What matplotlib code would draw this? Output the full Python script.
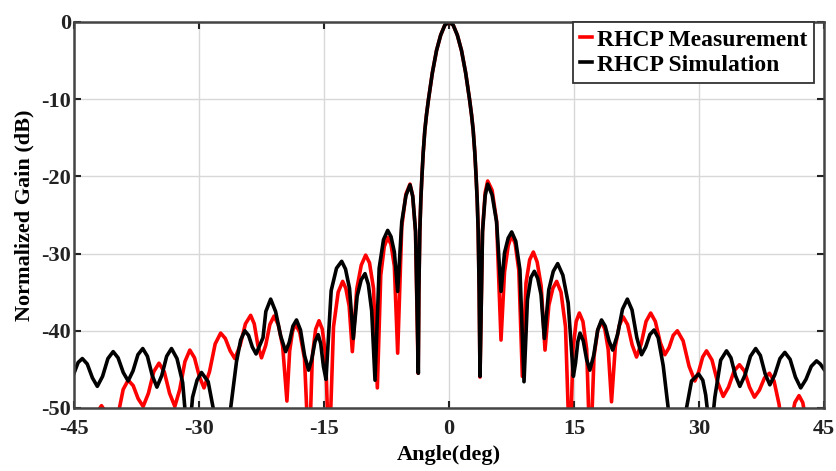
import matplotlib
matplotlib.use('Agg')
import matplotlib.pyplot as plt

plt.rcParams['font.family'] = ['Liberation Serif', 'DejaVu Serif']
plt.rcParams['font.weight'] = 'bold'
plt.rcParams['axes.unicode_minus'] = False

# main beam, shared by both curves (deg, dB)
beam_angle = [-3.62, -3.5, -3.38, -3.25, -3.1, -2.9, -2.7, -2.46, -2.0, -1.5, -1.0, -0.5,
              0.0, 0.5, 1.0, 1.5, 2.0, 2.46, 2.7, 2.9, 3.1, 3.25, 3.38, 3.5, 3.62]
beam_gain = [-35, -27, -23, -20, -17, -14, -12, -10, -6.6, -3.7, -1.7, -0.4,
             0.0, -0.4, -1.7, -3.7, -6.6, -10, -12, -14, -17, -20, -23, -27, -35]

# RHCP measurement (red), left of beam / right of beam
meas_left_angle = [-45.0, -43.5, -42.5, -42.0, -41.7, -41.4, -40.9, -40.2, -39.6, -39.1,
                   -38.5, -37.9, -37.3, -36.7, -36.07, -35.43, -34.8, -34.17, -33.53, -32.9,
                   -32.31, -31.69, -31.1, -30.54, -29.96, -29.4, -28.74, -28.06, -27.4, -26.84,
                   -26.26, -25.7, -25.07, -24.43, -23.8, -23.37, -22.93, -22.5, -22.0, -21.5,
                   -21.0, -20.49, -19.96, -19.45, -19.12, -18.78, -18.45, -17.91, -17.34, -16.8,
                   -16.4, -16.0, -15.6, -15.2, -14.8, -14.4, -13.86, -13.3, -12.76, -12.38,
                   -11.98, -11.6, -11.07, -10.53, -10.0, -9.54, -9.06, -8.6, -8.19, -7.77,
                   -7.36, -6.96, -6.56, -6.16, -5.67, -5.17, -4.68, -4.36, -4.02, -3.7]
meas_left_gain = [-57, -60, -53, -50.2, -49.7, -50.2, -53, -56, -50.3, -47.6,
                  -46.4, -47.1, -48.8, -49.8, -48.1, -45.3, -44.2, -45.3, -48.1, -49.8,
                  -47.6, -44.0, -42.5, -43.5, -45.9, -47.4, -45.3, -41.7, -40.3, -41.0,
                  -42.6, -43.6, -41.9, -39.1, -38.0, -39.1, -41.9, -43.5, -41.9, -39.2,
                  -38.1, -39.2, -42.0, -49.1, -42.6, -40.1, -39.1, -40.2, -43.6, -57,
                  -43.3, -39.8, -38.7, -39.8, -43.3, -57, -39.5, -35.0, -33.6, -34.5,
                  -36.8, -42.7, -34.6, -31.5, -30.2, -31.2, -34.5, -47.4, -32.8, -29.1,
                  -27.9, -28.8, -31.6, -42.9, -26.5, -22.3, -21.0, -22.5, -27.1, -45.5]
meas_right_angle = [3.72, 4.02, 4.34, 4.64, 5.17, 5.71, 6.24, 6.66, 7.1, 7.52,
                    7.94, 8.38, 8.8, 9.24, 9.68, 10.12, 10.58, 11.06, 11.52, 11.98,
                    12.46, 12.92, 13.44, 13.98, 14.5, 14.88, 15.26, 15.64, 16.07, 16.52,
                    16.95, 17.4, 17.85, 18.3, 18.7, 19.1, 19.5, 19.96, 20.44, 20.9,
                    21.43, 21.97, 22.5, 23.06, 23.64, 24.2, 24.76, 25.34, 25.9, 26.4,
                    26.9, 27.4, 28.09, 28.81, 29.5, 29.96, 30.44, 30.9, 31.56, 32.24,
                    32.9, 33.54, 34.21, 34.85, 35.44, 36.06, 36.65, 37.24, 37.86, 38.45,
                    39.0, 39.6, 40.3, 41.0, 41.5, 42.0, 42.45, 42.9, 43.8, 45.0]
meas_right_gain = [-46.0, -27.0, -22.1, -20.6, -21.8, -25.8, -41.2, -32.4, -29.0, -27.6,
                   -28.7, -32.2, -45.9, -33.8, -30.8, -29.8, -31.1, -34.2, -42.5, -36.7,
                   -34.5, -33.6, -35.0, -39.5, -57, -42.4, -38.8, -37.7, -38.8, -42.4,
                   -57, -43.3, -39.9, -38.8, -39.8, -42.4, -49.2, -42.0, -39.3, -38.2,
                   -39.2, -41.8, -43.4, -41.7, -38.8, -37.7, -38.8, -41.5, -43.1, -42.2,
                   -40.6, -40.0, -41.3, -44.6, -46.5, -45.3, -43.4, -42.6, -43.8, -46.7,
                   -48.5, -47.3, -45.2, -44.4, -45.2, -47.3, -48.6, -47.7, -46.1, -45.5,
                   -46.5, -49.5, -55, -52, -49.3, -48.4, -49.3, -52, -57, -58]

# RHCP simulation (black)
sim_left_angle = [-45.0, -44.5, -44.0, -43.41, -42.79, -42.2, -41.57, -40.93, -40.3, -39.71,
                  -39.09, -38.5, -37.92, -37.33, -36.75, -36.19, -35.61, -35.05, -34.47, -33.88,
                  -33.3, -32.64, -31.96, -31.3, -30.77, -30.23, -29.7, -28.9, -28.3, -27.3,
                  -26.2, -25.5, -25.0, -24.5, -24.05, -23.6, -23.15, -22.32, -21.98, -21.4,
                  -20.81, -20.19, -19.6, -19.17, -18.73, -18.3, -17.82, -17.33, -16.85, -16.47,
                  -16.08, -15.7, -15.39, -15.07, -14.76, -14.14, -13.5, -12.88, -12.42, -11.94,
                  -11.48, -11.02, -10.54, -10.08, -9.68, -9.28, -8.88, -8.38, -7.86, -7.36,
                  -6.96, -6.56, -6.16, -5.67, -5.17, -4.68, -4.35, -4.01, -3.68]
sim_left_gain = [-45.5, -44.1, -43.6, -44.3, -46.1, -47.2, -45.9, -43.6, -42.7, -43.5,
                 -45.4, -46.5, -45.2, -43.1, -42.3, -43.3, -45.8, -47.3, -45.8, -43.3,
                 -42.3, -43.6, -46.7, -55, -48.6, -46.4, -45.4, -46.6, -50.0, -62,
                 -50, -44.0, -41.2, -40.0, -40.6, -42.1, -43.0, -40.9, -37.5, -35.9,
                 -37.5, -40.7, -42.7, -41.5, -39.4, -38.6, -39.9, -43.2, -45.1, -43.7,
                 -41.4, -40.5, -41.7, -44.6, -46.3, -34.8, -31.9, -31.0, -32.0, -34.5,
                 -41.0, -35.5, -33.4, -32.6, -34.0, -37.4, -46.4, -31.9, -28.2, -27.0,
                 -27.8, -29.8, -34.9, -25.9, -22.5, -21.1, -22.6, -27.2, -45.5]
sim_right_angle = [3.72, 4.02, 4.34, 4.64, 5.17, 5.71, 6.24, 6.66, 7.1, 7.52,
                   8.01, 8.51, 9.0, 9.41, 9.83, 10.24, 10.64, 11.04, 11.44, 11.97,
                   12.51, 13.04, 13.66, 14.3, 14.92, 15.18, 15.46, 15.72, 16.11, 16.51,
                   16.9, 17.36, 17.84, 18.3, 18.74, 19.2, 19.64, 20.22, 20.82, 21.4,
                   21.96, 22.54, 23.1, 23.6, 24.1, 24.6, 25.1, 25.7, 26.3, 27.4,
                   28.5, 29.1, 29.95, 30.45, 30.8, 31.4, 31.9, 32.6, 33.3, 33.83,
                   34.37, 34.9, 35.53, 36.17, 36.8, 37.36, 37.94, 38.5, 39.09, 39.71,
                   40.3, 40.93, 41.57, 42.2, 42.83, 43.47, 44.1, 44.55, 45.0]
sim_right_gain = [-45.9, -27.2, -22.5, -21.0, -22.4, -25.9, -34.9, -29.9, -28.0, -27.2,
                  -28.4, -32.1, -46.6, -36.0, -33.1, -32.3, -33.2, -35.3, -41.0, -34.7,
                  -32.3, -31.3, -32.8, -36.4, -45.9, -44.2, -41.4, -40.3, -41.3, -43.7,
                  -45.1, -43.2, -39.9, -38.6, -39.4, -41.3, -42.5, -40.5, -37.2, -35.9,
                  -37.3, -40.9, -43.1, -42.1, -40.5, -39.9, -40.9, -44.5, -50, -62,
                  -50, -46.5, -45.6, -46.4, -48.3, -54, -48.6, -43.8, -42.6, -43.5,
                  -45.8, -47.2, -45.7, -43.3, -42.3, -43.2, -45.6, -47.0, -45.7, -43.6,
                  -42.8, -43.7, -46.0, -47.4, -46.3, -44.6, -43.9, -44.3, -45.0]

meas_angle = meas_left_angle + beam_angle + meas_right_angle
meas_gain = meas_left_gain + beam_gain + meas_right_gain
sim_angle = sim_left_angle + beam_angle + sim_right_angle
sim_gain = sim_left_gain + beam_gain + sim_right_gain

xticks = [-45, -30, -15, 0, 15, 30, 45]
yticks = [-50, -40, -30, -20, -10, 0]

fig = plt.figure(figsize=(8.37, 4.71), dpi=100)
ax = fig.add_axes([0.0884, 0.1338, 0.8961, 0.8195])

ax.plot(meas_angle, meas_gain, color='#ff0000', lw=2.6, label='RHCP Measurement',
        solid_joinstyle='round')
ax.plot(sim_angle, sim_gain, color='black', lw=2.6, label='RHCP Simulation',
        solid_joinstyle='round')

ax.set_xlim(-45, 45)
ax.set_ylim(-50, 0)
ax.set_xticks(xticks)
ax.set_yticks(yticks)
ax.grid(True, color='#d8d8d8', lw=1.0)
ax.tick_params(direction='in', top=True, right=True, length=5, width=1.5,
               labelsize=16, colors='#222222')
ax.tick_params(axis='x', pad=8)
ax.tick_params(axis='y', pad=2)
for lab in ax.get_xticklabels() + ax.get_yticklabels():
    lab.set_fontweight('bold')
for s in ax.spines.values():
    s.set_linewidth(1.8)
    s.set_color('#444444')

ax.set_xlabel('Angle(deg)', fontsize=16, fontweight='bold', labelpad=4)
ax.set_ylabel('Normalized Gain (dB)', fontsize=16, fontweight='bold', labelpad=5)

leg = ax.legend(loc='upper right', bbox_to_anchor=(0.9867, 1.0), handlelength=0.5,
                handletextpad=0.2, borderpad=0.3, labelspacing=0.15, borderaxespad=0.0,
                fancybox=False, framealpha=1, prop={'weight': 'bold', 'size': 17})
leg.get_frame().set_edgecolor('#333333')
leg.get_frame().set_linewidth(1.3)

fig.savefig('out.png', dpi=100)
